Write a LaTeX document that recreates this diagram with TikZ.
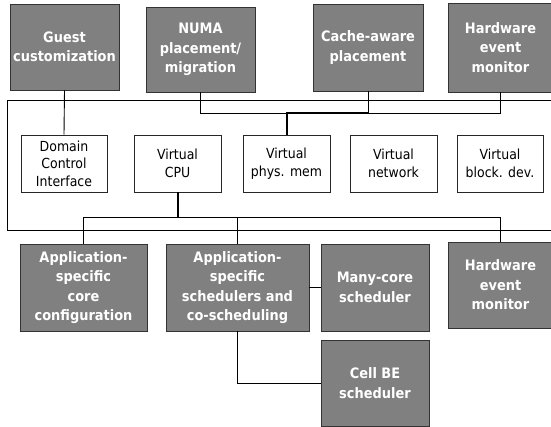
\documentclass[tikz,border=0pt]{standalone}
\usepackage{fontspec}
\setmainfont[FakeStretch=0.9]{DejaVu Sans}
\begin{document}
\begin{tikzpicture}[x=1pt,y=-1pt,
  gbox/.style={draw=black!80, fill=black!50, text=white, align=center,
    inner sep=0pt, font=\bfseries\fontsize{14.4}{19.5}\selectfont, line width=0.9pt},
  wbox/.style={draw=black!85, fill=white, text=black, align=center,
    inner sep=0pt, minimum width=87pt, minimum height=57pt,
    font=\fontsize{13.9}{17.5}\selectfont, line width=0.9pt},
  conn/.style={draw=black, line width=0.9pt},
  tconn/.style={draw=black, line width=2pt}]
\useasboundingbox (0,0) rectangle (551,427);
\clip (0,0) rectangle (551,427);
% container
\draw[conn] (7,100) rectangle (570,230);
% top boxes
\node[gbox, minimum width=109pt, minimum height=86pt] (guest) at (64.5,47) {Guest\\customization};
\node[gbox, minimum width=109pt, minimum height=85pt] (numa) at (200.5,49.5) {NUMA\\placement/\\migration};
\node[gbox, minimum width=110pt, minimum height=87pt] (cache) at (368,47.5) {Cache-aware\\placement};
\node[gbox, minimum width=105pt, minimum height=89pt] (hwa) at (500.5,47.5) {Hardware\\event\\monitor};
% middle boxes
\node[wbox, minimum width=86pt] (dci) at (64,163.5) {Domain\\Control\\Interface};
\node[wbox] (vcpu) at (177.5,163.5) {Virtual\\CPU};
\node[wbox] (vmem) at (286.5,163.5) {Virtual\\phys. mem};
\node[wbox] (vnet) at (393.5,163.5) {Virtual\\network};
\node[wbox, minimum width=86pt] (vblk) at (500,163.5) {Virtual\\block. dev.};
% bottom boxes
\node[gbox, minimum width=127pt, minimum height=87pt] (appcore) at (83.5,287.5) {Application-\\specific\\core\\configuration};
\node[gbox, minimum width=143pt, minimum height=87pt] (appsched) at (237.5,287.5) {Application-\\specific\\schedulers and\\co-scheduling};
\node[gbox, minimum width=108pt, minimum height=87pt] (many) at (375,287.5) {Many-core\\scheduler};
\node[gbox, minimum width=105pt, minimum height=86pt] (hwb) at (500.5,285) {Hardware\\event\\monitor};
\node[gbox, minimum width=108pt, minimum height=86pt] (cell) at (375,383) {Cell BE\\scheduler};
% connectors
\draw[conn] (guest.south) -- (dci.north);
\draw[conn] (numa.south) -- ++(0,21) coordinate (na) -| (hwa.south);
\draw[conn] (cache.south) -- (cache.south |- na);
\draw[tconn] (vmem.north) |- (cache.south |- na);
\draw[tconn] (vcpu.south) -- ++(0,25) coordinate (cb);
\draw[conn] (appcore.north) |- (cb) -| (hwb.north);
\draw[conn] (appsched.north) -- (appsched.north |- cb);
\draw[conn] (appsched) -- (many);
\draw[conn] (appsched.south) |- (cell.west);
\end{tikzpicture}
\end{document}
